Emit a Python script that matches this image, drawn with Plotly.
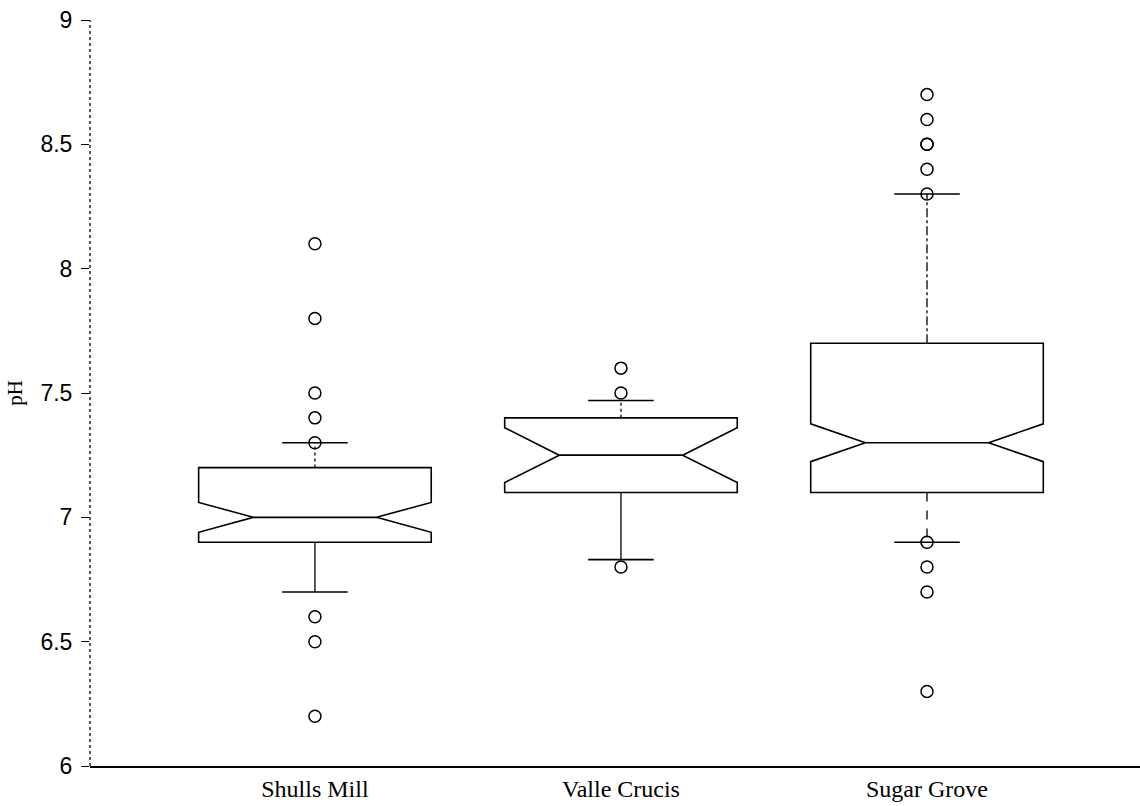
import plotly.graph_objects as go

# Sampling sites and the pH summary statistics for each
sites = ["Shulls Mill", "Valle Crucis", "Sugar Grove"]
positions = [0, 1, 2]
q1 = [6.9, 7.1, 7.1]
median = [7.0, 7.25, 7.3]
q3 = [7.2, 7.4, 7.7]
lower_whisker = [6.7, 6.83, 6.9]
upper_whisker = [7.3, 7.47, 8.3]
notch_half_span = [0.06, 0.11, 0.076]

# Outlying observations per site
shulls_mill_outliers = [8.1, 7.8, 7.5, 7.4, 7.3, 6.6, 6.5, 6.2]
valle_crucis_outliers = [7.6, 7.5, 6.8]
sugar_grove_outliers = [8.7, 8.6, 8.5, 8.5, 8.4, 8.3, 6.9, 6.8, 6.7, 6.3]
outliers = [shulls_mill_outliers, valle_crucis_outliers, sugar_grove_outliers]

y_ticks = [6, 6.5, 7, 7.5, 8, 8.5, 9]
y_tick_text = ["6", "6.5", "7", "7.5", "8", "8.5", "9"]

BOX_WIDTH = 0.76
CAP_HALF = 0.107
INK = "black"
upper_dash = ["dot", "dot", "dashdot"]
lower_dash = ["solid", "solid", "dash"]

fig = go.Figure()

# Whisker stems, drawn separately so each can carry its own dash pattern
for i, pos in enumerate(positions):
    fig.add_trace(go.Scatter(
        x=[pos, pos], y=[q3[i], upper_whisker[i]], mode="lines",
        line=dict(color=INK, width=1.3, dash=upper_dash[i]),
        showlegend=False, hoverinfo="skip"))
    fig.add_trace(go.Scatter(
        x=[pos, pos], y=[q1[i], lower_whisker[i]], mode="lines",
        line=dict(color=INK, width=1.3, dash=lower_dash[i]),
        showlegend=False, hoverinfo="skip"))

# Whisker caps
cap_x, cap_y = [], []
for i, pos in enumerate(positions):
    for w in (upper_whisker[i], lower_whisker[i]):
        cap_x += [pos - CAP_HALF, pos + CAP_HALF, None]
        cap_y += [w, w, None]
fig.add_trace(go.Scatter(
    x=cap_x, y=cap_y, mode="lines",
    line=dict(color=INK, width=1.6),
    showlegend=False, hoverinfo="skip"))

# Notched boxes from the precomputed quartiles
fig.add_trace(go.Box(
    x=positions, q1=q1, median=median, q3=q3,
    lowerfence=q1, upperfence=q3,
    notched=True, notchspan=notch_half_span, notchwidth=0.235,
    width=BOX_WIDTH, boxpoints=False,
    fillcolor="rgba(255,255,255,0)",
    line=dict(color=INK, width=1.6),
    whiskerwidth=0, showlegend=False))

# Outliers as open circles
for pos, vals in zip(positions, outliers):
    fig.add_trace(go.Scatter(
        x=[pos] * len(vals), y=vals, mode="markers",
        marker=dict(symbol="circle-open", size=12, color=INK,
                    line=dict(width=1.5, color=INK)),
        showlegend=False))

# Dashed vertical axis line
fig.add_shape(type="line", xref="paper", yref="paper",
              x0=0, x1=0, y0=0, y1=1,
              line=dict(color=INK, width=1.3, dash="3px,3px"))

fig.update_layout(
    width=1140, height=806,
    margin=dict(l=90, r=0, t=20, b=40),
    paper_bgcolor="white", plot_bgcolor="white",
    showlegend=False,
    xaxis=dict(
        range=[-0.735, 2.696],
        tickvals=positions, ticktext=sites,
        ticks="", showgrid=False, zeroline=False,
        showline=True, linecolor=INK, linewidth=1.6,
        tickfont=dict(family="Liberation Serif", size=24, color=INK),
    ),
    yaxis=dict(
        range=[6, 9],
        tickvals=y_ticks, ticktext=y_tick_text,
        ticks="outside", ticklen=8, tickwidth=1.3, tickcolor=INK,
        ticklabelstandoff=4,
        showgrid=False, zeroline=False, showline=False,
        tickfont=dict(family="Liberation Sans", size=23, color=INK),
        title=dict(text="pH", font=dict(family="Liberation Serif", size=21, color=INK),
                   standoff=12),
    ),
)

fig.write_html("out.html")
